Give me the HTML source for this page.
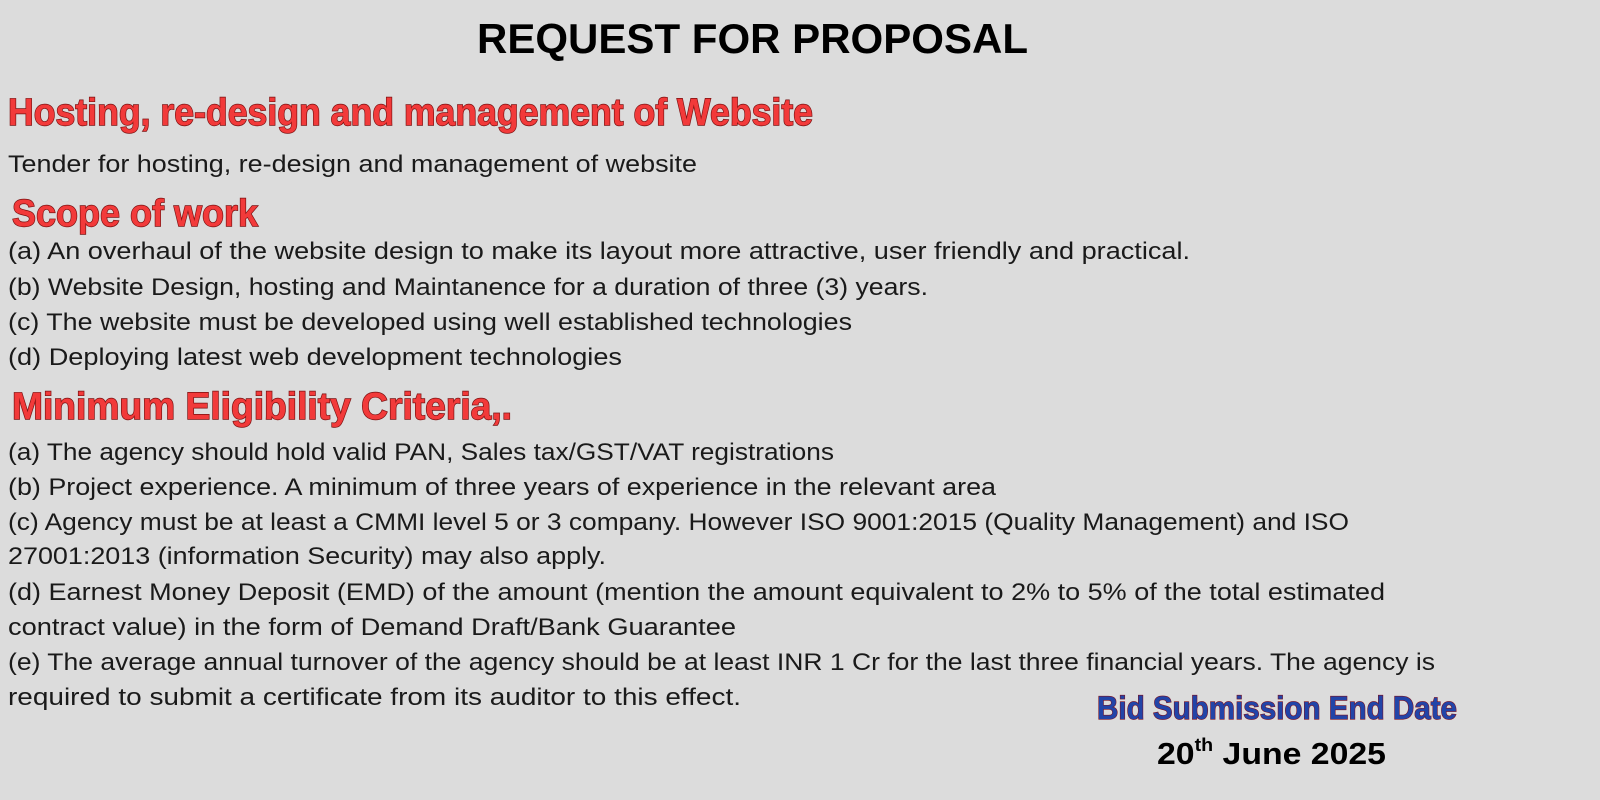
<!DOCTYPE html>
<html><head><meta charset="utf-8"><style>
html,body{margin:0;padding:0;background:#dcdcdc;}
svg{display:block;}
.b{font-family:"Liberation Sans",sans-serif;font-size:24px;fill:#1a1a1a;}
.h{font-family:"Liberation Sans",sans-serif;font-weight:bold;font-size:38px;fill:#f23a3a;stroke:#7a1010;stroke-width:1.4px;paint-order:stroke;}
.bl{font-family:"Liberation Sans",sans-serif;font-weight:bold;font-size:32px;fill:#2244a8;stroke:#7a1020;stroke-width:1.2px;paint-order:stroke;}
.t{font-family:"Liberation Sans",sans-serif;font-weight:bold;font-size:42px;fill:#000;}
.d{font-family:"Liberation Sans",sans-serif;font-weight:bold;font-size:31px;fill:#000;}
</style></head><body>
<svg width="1600" height="800" viewBox="0 0 1600 800">
<rect width="1600" height="800" fill="#dcdcdc"/>
<text class="t" x="477" y="53" textLength="551" lengthAdjust="spacingAndGlyphs">REQUEST FOR PROPOSAL</text>
<text class="h" x="8" y="125" textLength="805" lengthAdjust="spacingAndGlyphs">Hosting, re-design and management of Website</text>
<text class="b" x="8" y="172" textLength="689" lengthAdjust="spacingAndGlyphs">Tender for hosting, re-design and management of website</text>
<text class="h" x="12" y="226" textLength="246" lengthAdjust="spacingAndGlyphs">Scope of work</text>
<text class="b" x="8" y="259" textLength="1182" lengthAdjust="spacingAndGlyphs">(a) An overhaul of the website design to make its layout more attractive, user friendly and practical.</text>
<text class="b" x="8" y="295" textLength="920" lengthAdjust="spacingAndGlyphs">(b) Website Design, hosting and Maintanence for a duration of three (3) years.</text>
<text class="b" x="8" y="330" textLength="844" lengthAdjust="spacingAndGlyphs">(c) The website must be developed using well established technologies</text>
<text class="b" x="8" y="365" textLength="614" lengthAdjust="spacingAndGlyphs">(d) Deploying latest web development technologies</text>
<text class="h" x="12" y="419" textLength="500" lengthAdjust="spacingAndGlyphs">Minimum Eligibility Criteria,.</text>
<text class="b" x="8" y="460" textLength="826" lengthAdjust="spacingAndGlyphs">(a) The agency should hold valid PAN, Sales tax/GST/VAT registrations</text>
<text class="b" x="8" y="495" textLength="988" lengthAdjust="spacingAndGlyphs">(b) Project experience. A minimum of three years of experience in the relevant area</text>
<text class="b" x="8" y="530" textLength="1341" lengthAdjust="spacingAndGlyphs">(c) Agency must be at least a CMMI level 5 or 3 company. However ISO 9001:2015 (Quality Management) and ISO</text>
<text class="b" x="8" y="564" textLength="598" lengthAdjust="spacingAndGlyphs">27001:2013 (information Security) may also apply.</text>
<text class="b" x="8" y="600" textLength="1377" lengthAdjust="spacingAndGlyphs">(d) Earnest Money Deposit (EMD) of the amount (mention the amount equivalent to 2% to 5% of the total estimated</text>
<text class="b" x="8" y="635" textLength="728" lengthAdjust="spacingAndGlyphs">contract value) in the form of Demand Draft/Bank Guarantee</text>
<text class="b" x="8" y="670" textLength="1427" lengthAdjust="spacingAndGlyphs">(e) The average annual turnover of the agency should be at least INR 1 Cr for the last three financial years. The agency is</text>
<text class="b" x="8" y="705" textLength="733" lengthAdjust="spacingAndGlyphs">required to submit a certificate from its auditor to this effect.</text>
<text class="bl" x="1097" y="719" textLength="360" lengthAdjust="spacingAndGlyphs">Bid Submission End Date</text>
<text class="d" x="1157" y="764" textLength="229" lengthAdjust="spacingAndGlyphs">20<tspan font-size="18" dy="-13">th</tspan><tspan dy="13"> June 2025</tspan></text>
</svg>
</body></html>
